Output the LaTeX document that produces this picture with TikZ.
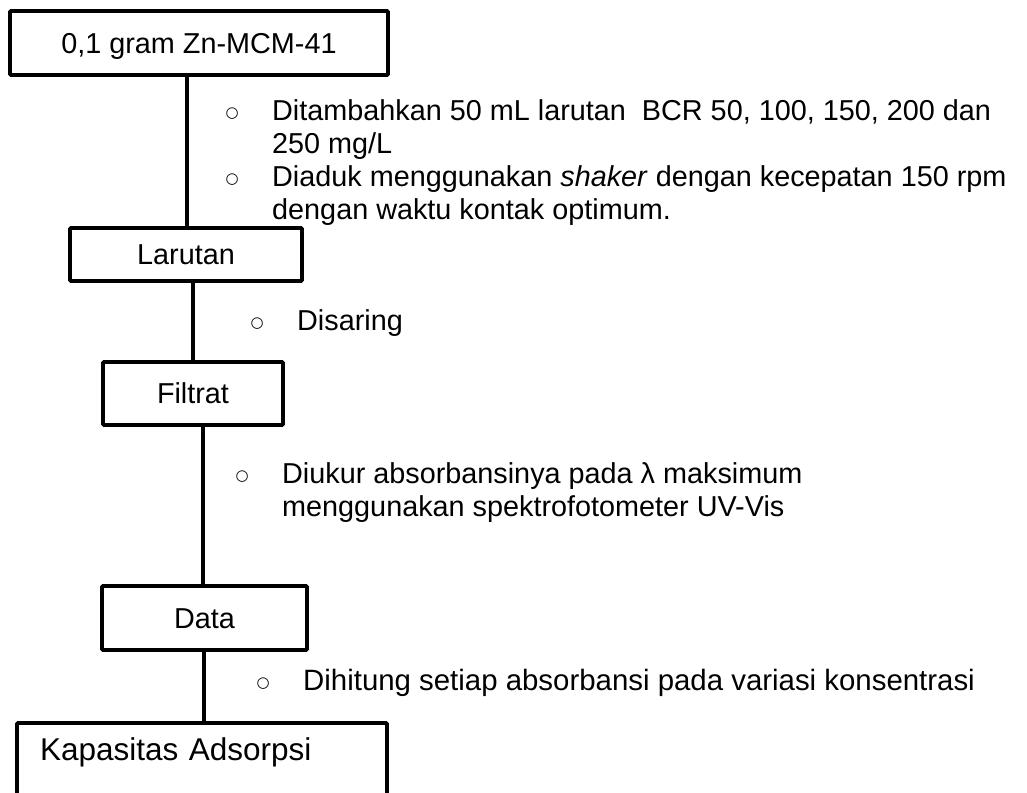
\documentclass[tikz,border=0pt]{standalone}
\usepackage{fontspec}
\setmainfont{Liberation Sans}
\newfontfamily\bulfont{DejaVu Sans}
\newcommand{\bul}{\makebox[46.5pt][l]{\raisebox{2.5pt}{\bulfont\fontsize{15}{15}\selectfont ○}}}
\newcommand{\cont}{\hspace*{46.5pt}}
\begin{document}
\begin{tikzpicture}[x=1pt,y=-1pt,
  every node/.style={font=\fontsize{28.8}{33}\selectfont},
  box/.style={draw, line width=3.6pt, rounded corners=1pt, inner sep=0pt, text height=20.6pt, text depth=0pt},
  conn/.style={line width=3.6pt},
  note/.style={anchor=base west, inner sep=0pt}]
\useasboundingbox (0,0) rectangle (1027,792);
\clip (0,0) rectangle (1027,792);
% boxes
\node[box, minimum width=378pt, minimum height=64pt] (b1) at (199,43) {0,1 gram Zn-MCM-41};
\node[box, minimum width=232pt, minimum height=53pt] (b2) at (186,254.5) {Larutan};
\node[box, minimum width=180pt, minimum height=63pt] (b3) at (193,393.5) {Filtrat};
\node[box, minimum width=205pt, minimum height=64pt] (b4) at (204.5,618) {Data};
\node[draw, line width=3.6pt, rounded corners=1pt, inner xsep=23pt, inner ysep=14.4pt, text width=324pt, align=left, text height=22.6pt, text depth=40pt, font=\fontsize{31.5}{36}\selectfont] (b5) at (202,768.7) {Kapasitas Adsorpsi};
% connectors
\coordinate (x1) at (187,0);
\coordinate (x2) at (193,0);
\coordinate (x3) at (203,0);
\coordinate (x4) at (204,0);
\draw[conn] (b1.south -| x1) -- (b2.north -| x1);
\draw[conn] (b2.south -| x2) -- (b3.north -| x2);
\draw[conn] (b3.south -| x3) -- (b4.north -| x3);
\draw[conn] (b4.south -| x4) -- (b5.north -| x4);
% notes
\node[note] (n1) at (225.5,120) {\parbox[t]{795pt}{\bul Ditambahkan 50 mL larutan~ BCR 50, 100, 150, 200 dan\\\cont 250 mg/L\\\bul Diaduk menggunakan \textit{shaker} dengan kecepatan 150 rpm\\\cont dengan waktu kontak optimum.}};
\node[note] (n2) at (250.5,330) {\bul Disaring};
\node[note] (n3) at (235.5,483) {\parbox[t]{700pt}{\bul Diukur absorbansinya pada λ maksimum\\\cont menggunakan spektrofotometer UV-Vis}};
\node[note, font=\fontsize{29.4}{33}\selectfont] (n4) at (256.5,690) {\bul Dihitung setiap absorbansi pada variasi konsentrasi};
\end{tikzpicture}
\end{document}
